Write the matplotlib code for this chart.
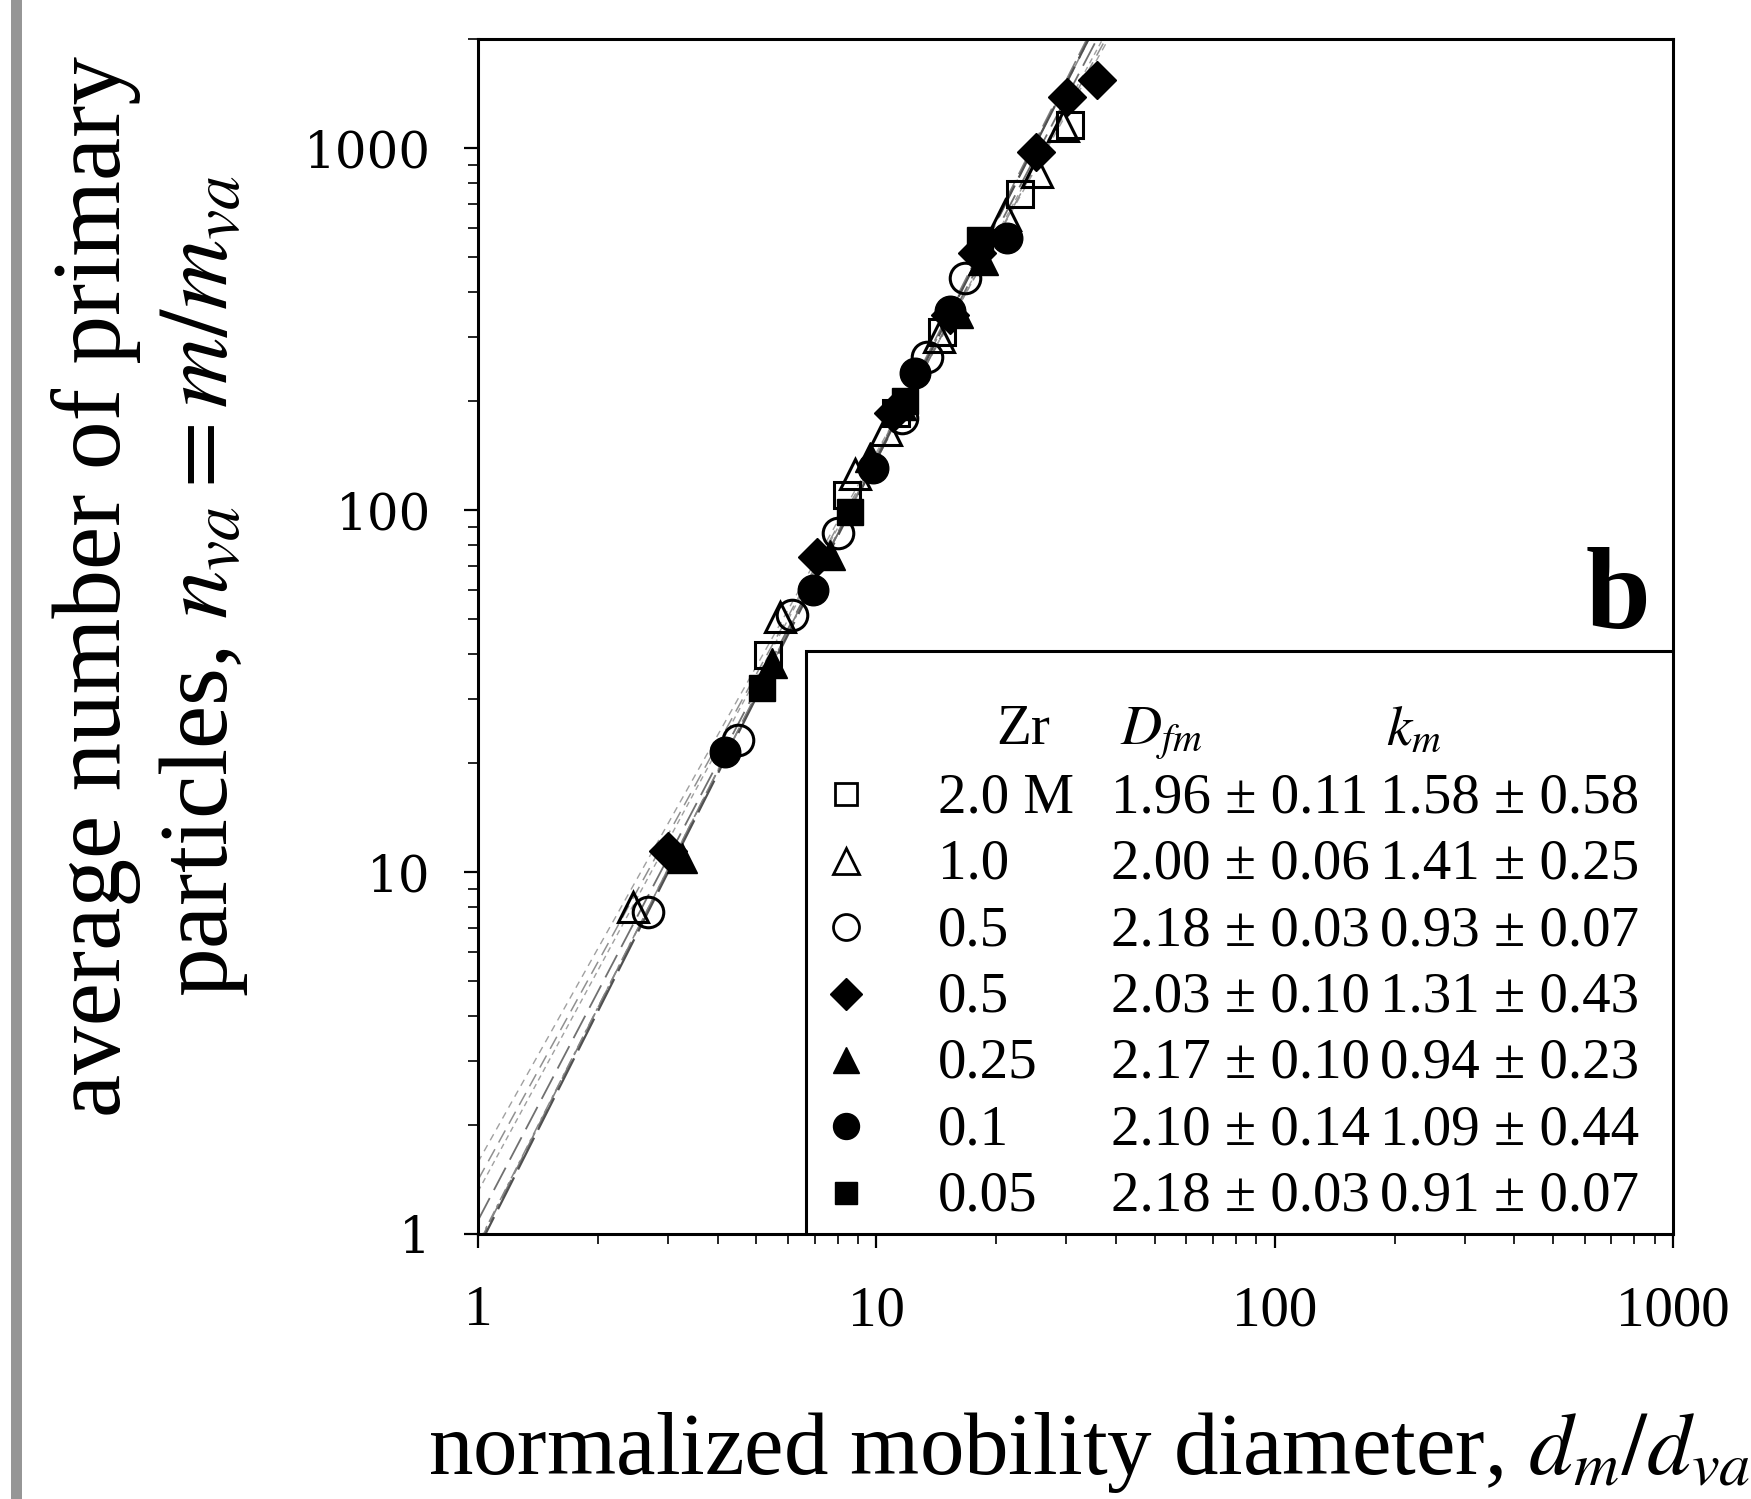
import numpy as np
import matplotlib
matplotlib.use('Agg')
import matplotlib.pyplot as plt
from matplotlib.patches import Rectangle

plt.rcParams['font.family'] = ['Liberation Serif', 'DejaVu Serif']
plt.rcParams['mathtext.fontset'] = 'stix'

# ---------------- data ----------------
zr_labels = ['2.0 M', '1.0', '0.5', '0.5', '0.25', '0.1', '0.05']
D_fm = [1.96, 2.00, 2.18, 2.03, 2.17, 2.10, 2.18]
D_err = [0.11, 0.06, 0.03, 0.10, 0.10, 0.14, 0.03]
k_m = [1.58, 1.41, 0.93, 1.31, 0.94, 1.09, 0.91]
k_err = [0.58, 0.25, 0.07, 0.43, 0.23, 0.44, 0.07]

sq_open_x = [5.35, 8.44, 11.2, 14.6, 22.9, 30.6]
sq_open_y = [39.8, 110, 185, 310, 746, 1157]
tri_open_x = [2.45, 5.73, 8.85, 10.6, 14.4, 21.0, 25.3, 29.4]
tri_open_y = [8.0, 50.6, 126, 166, 300, 653, 859, 1150]
circ_open_x = [2.67, 4.50, 6.14, 8.01, 11.6, 13.4, 16.7]
circ_open_y = [7.76, 23.2, 51.3, 86.4, 180, 265, 437]
dia_x = [3.00, 7.10, 11.0, 15.3, 17.9, 25.2, 30.1, 35.8]
dia_y = [11.4, 74.2, 185, 345, 513, 975, 1383, 1541]
tri_fill_x = [3.25, 5.47, 7.65, 9.64, 11.5, 16.0, 18.5]
tri_fill_y = [10.9, 37.8, 75.1, 140, 195, 350, 490]
circ_fill_x = [4.17, 6.93, 9.8, 12.5, 15.3, 21.3]
circ_fill_y = [21.4, 60.1, 131, 239, 355, 564]
sq_fill_x = [5.17, 8.59, 11.8, 18.2]
sq_fill_y = [32.2, 98.7, 200, 557]

x_ticks = [1, 10, 100, 1000]
x_ticklabels = ['1', '10', '100', '1000']
y_ticks = [1, 10, 100, 1000]
y_ticklabels = ['1', '10', '100', '1000']

series_x = [sq_open_x, tri_open_x, circ_open_x, dia_x, tri_fill_x, circ_fill_x, sq_fill_x]
series_y = [sq_open_y, tri_open_y, circ_open_y, dia_y, tri_fill_y, circ_fill_y, sq_fill_y]
markers = ['s', '^', 'o', 'D', '^', 'o', 's']
filled = [False, False, False, True, True, True, True]
msizes = [19, 22, 22, 19.5, 22, 22, 19]

line_dashes = [(5, 4), (9, 5), (12, 4), (4, 3), (8, 3, 2, 3), (14, 5), (16, 4)]
line_colors = ['#a0a0a0', '#909090', '#808080', '#a0a0a0', '#888888', '#707070', '#505050']
line_widths = [1.0, 1.1, 1.2, 1.0, 1.1, 1.3, 1.6]

# ---------------- figure ----------------
fig = plt.figure(figsize=(17.51, 14.99), dpi=100)
fig.patches.append(Rectangle((11 / 1751, 0), 11 / 1751, 1, transform=fig.transFigure,
                             facecolor='#969696', edgecolor='none', zorder=0))

ax = fig.add_axes([478 / 1751, 265 / 1499, 1195 / 1751, 1195 / 1499])
ax.set_xscale('log')
ax.set_yscale('log')
ax.set_xlim(1, 1000)
ax.set_ylim(1, 2000)

# fit lines n = k_m * x^D_fm
xl = np.array([1.0, 60.0])
for i in range(len(D_fm)):
    ax.plot(xl, k_m[i] * xl ** D_fm[i], color=line_colors[i], lw=line_widths[i],
            dashes=line_dashes[i], zorder=1)

# data points (open first, then filled)
for i in range(len(series_x)):
    if filled[i]:
        ax.plot(series_x[i], series_y[i], ls='none', marker=markers[i], ms=msizes[i],
                mfc='black', mec='black', mew=1.0, zorder=3)
    else:
        ax.plot(series_x[i], series_y[i], ls='none', marker=markers[i], ms=msizes[i],
                mfc='none', mec='black', mew=2.2, zorder=2)

for s in ax.spines.values():
    s.set_linewidth(2.2)

ax.tick_params(which='major', direction='out', length=10, width=1.6,
               top=False, right=False)
ax.tick_params(which='minor', direction='out', length=7, width=1.2,
               top=False, right=False)
ax.tick_params(axis='x', which='major', labelsize=41, pad=27)
ax.tick_params(axis='y', which='major', pad=24)
ax.set_xticks(x_ticks)
ax.set_xticklabels(x_ticklabels)
ax.set_yticks(y_ticks)
ax.set_yticklabels(y_ticklabels, fontfamily='DejaVu Serif', fontsize=36)

# panel letter
ax.text(0.954, 0.507, 'b', transform=ax.transAxes, ha='center', va='baseline',
        fontsize=84, fontweight='bold')

# legend table
ax.add_patch(Rectangle((0.2745, 0), 1 - 0.2745, 0.488, transform=ax.transAxes,
                       facecolor='white', edgecolor='black', lw=2.2, zorder=4))
fs = 41
ax.text(0.456, 0.410, 'Zr', transform=ax.transAxes, ha='center', va='baseline',
        fontsize=fs, zorder=5)
ax.text(0.572, 0.410, r'$D_{fm}$', transform=ax.transAxes, ha='center', va='baseline',
        fontsize=fs, zorder=5)
ax.text(0.783, 0.410, r'$k_m$', transform=ax.transAxes, ha='center', va='baseline',
        fontsize=fs, zorder=5)
row0 = 0.353
dy = 0.0556
for i in range(len(zr_labels)):
    yb = row0 - i * dy
    ax.plot([0.308], [yb + 0.015], transform=ax.transAxes, ls='none',
            marker=markers[i], ms=msizes[i] * 0.85,
            mfc='black' if filled[i] else 'none', mec='black',
            mew=1.0 if filled[i] else 2.0, clip_on=False, zorder=6)
    ax.text(0.385, yb, zr_labels[i], transform=ax.transAxes, ha='left', va='baseline',
            fontsize=fs, zorder=5)
    ax.text(0.530, yb, f'{D_fm[i]:.2f} ± {D_err[i]:.2f}', transform=ax.transAxes,
            ha='left', va='baseline', fontsize=fs, zorder=5)
    ax.text(0.755, yb, f'{k_m[i]:.2f} ± {k_err[i]:.2f}', transform=ax.transAxes,
            ha='left', va='baseline', fontsize=fs, zorder=5)

# axis labels
fig.text(96 / 1751, 0.609, 'average number of primary', rotation=90,
         ha='center', va='center', fontsize=70)
fig.text(203 / 1751, 0.609, r'particles, $n_{va} = m/m_{va}$', rotation=90,
         ha='center', va='center', fontsize=70)
fig.text(428 / 1751, 25 / 1499, r'normalized mobility diameter, $d_m/d_{va}$',
         ha='left', va='baseline', fontsize=64)

fig.savefig('out.png', dpi=100)
